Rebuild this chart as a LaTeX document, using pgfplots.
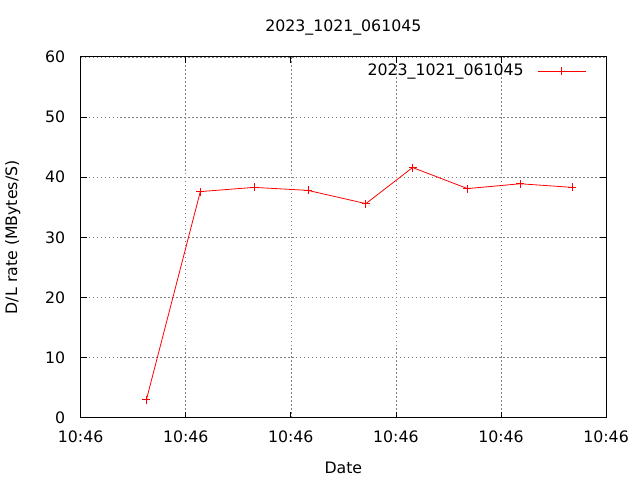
\documentclass[border=0pt]{standalone}
\usepackage{pgfplots}
\pgfplotsset{compat=1.18}
\usepackage{fontspec}
\setmainfont{DejaVu Sans}
\begin{document}
\fontsize{15.8}{19}\selectfont
\begin{tikzpicture}
\begin{axis}[
  scale only axis,
  width=527pt, height=362pt,
  xmin=0, xmax=5, ymin=0, ymax=60,
  xtick={0,1,2,3,4,5},
  xticklabels={10:46,10:46,10:46,10:46,10:46,10:46},
  ytick={0,10,20,30,40,50,60},
  /pgf/number format/assume math mode=true,
  tick align=inside,
  major tick length=6pt,
  tick style={black, line width=0.8pt},
  axis line style={black, line width=0.9pt},
  grid=major,
  major grid style={gray, line width=0.6pt, dash pattern=on 1.5pt off 2.5pt},
  title={2023\_1021\_061045},
  title style={yshift=10pt, font=\fontsize{15.8}{19}\selectfont},
  xlabel={Date},
  ylabel={D/L rate (MBytes/S)},
  xlabel style={yshift=-8pt},
  ylabel style={yshift=14pt},
  tick label style={font=\fontsize{15.8}{19}\selectfont},
  xticklabel style={yshift=-8pt},
  yticklabel style={xshift=-10pt},
  label style={font=\fontsize{15.8}{19}\selectfont},
  legend plot pos=right,
  legend cell align=right,
  legend style={at={(1,1)}, anchor=north east, draw=none, fill=none,
    font=\fontsize{15.8}{19}\selectfont, xshift=-17pt, yshift=-3pt},
  legend image code/.code={\path[draw=none] (0pt,0pt) -- (12pt,0pt); \draw[mark repeat=2,mark phase=2] plot coordinates {(12pt,0pt)(36pt,0pt)(60pt,0pt)};},
]
\addplot[red, line width=0.8pt, mark=+, mark size=4pt] coordinates {
(0.626,3.0) (1.139,37.6) (1.651,38.3) (2.163,37.8) (2.714,35.6)
(3.159,41.6) (3.681,38.1) (4.184,38.9) (4.677,38.3)
};
\addlegendentry{2023\_1021\_061045}
\end{axis}
\path ([shift={(-79pt,-61pt)}]current axis.south west) rectangle ([shift={(34pt,57pt)}]current axis.north east);
\end{tikzpicture}
\end{document}
